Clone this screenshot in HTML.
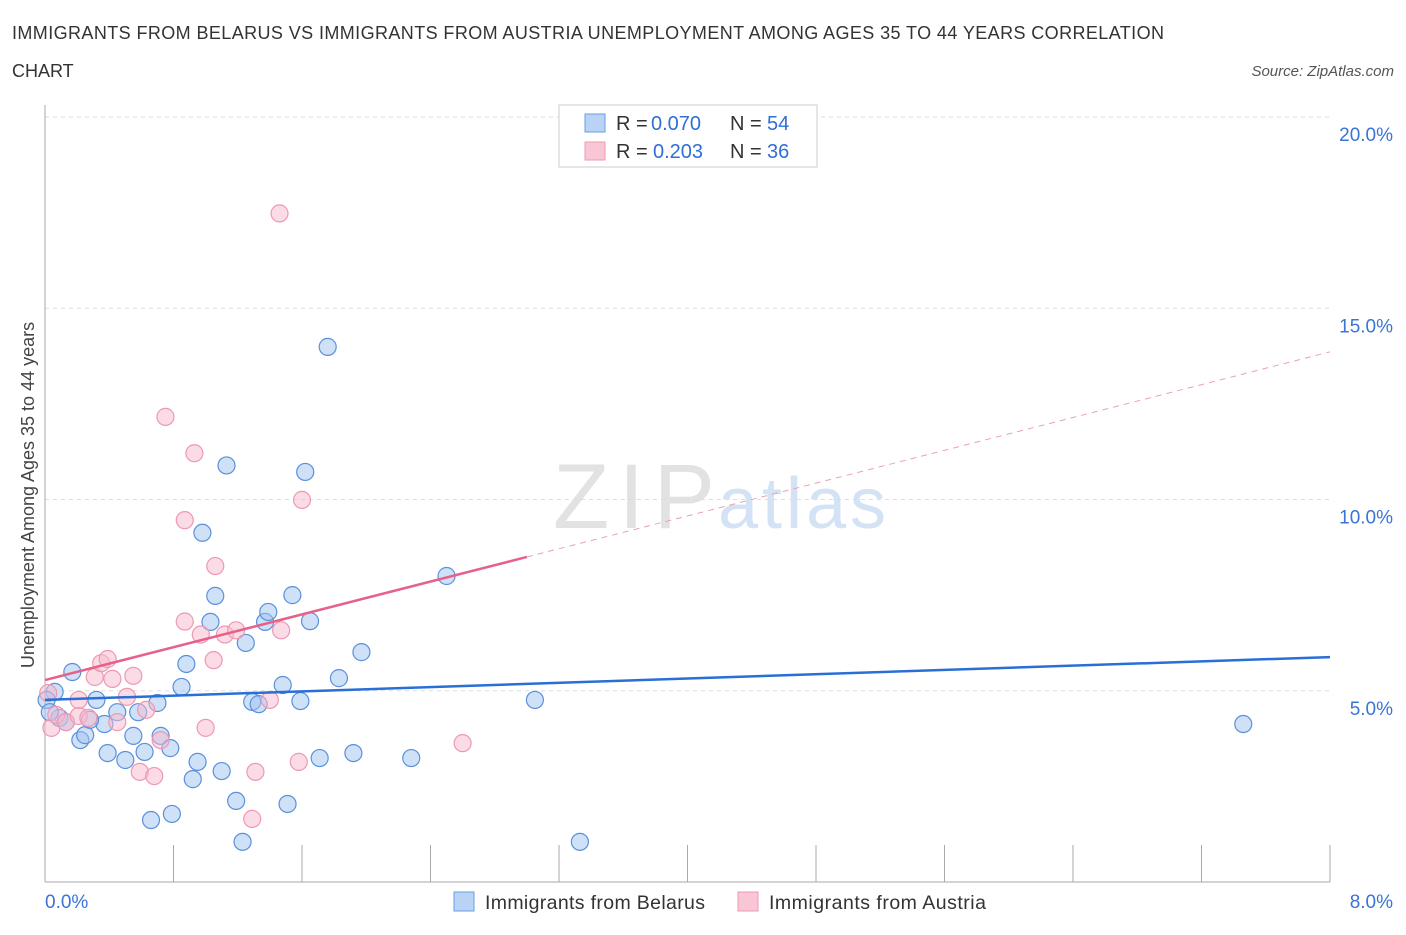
<!DOCTYPE html>
<html><head><meta charset="utf-8"><style>
body{margin:0;background:#fff;font-family:"Liberation Sans",sans-serif}
svg text{font-family:"Liberation Sans",sans-serif}
</style></head><body>
<svg id="c" width="1406" height="930" xmlns="http://www.w3.org/2000/svg">
<text x="12" y="39" font-size="18" fill="#333" textLength="1152">IMMIGRANTS FROM BELARUS VS IMMIGRANTS FROM AUSTRIA UNEMPLOYMENT AMONG AGES 35 TO 44 YEARS CORRELATION</text>
<text x="12" y="77" font-size="18" fill="#333">CHART</text>
<text x="1394" y="76" font-size="15" fill="#555" font-style="italic" text-anchor="end">Source: ZipAtlas.com</text>
<text x="553" y="528" font-size="92" fill="#e2e2e2" font-family="Liberation Serif" textLength="162">ZIP</text>
<text x="718" y="528" font-size="72" fill="#d3e2f4" textLength="168">atlas</text>
<text transform="translate(34,495) rotate(-90)" font-size="18" fill="#444" text-anchor="middle">Unemployment Among Ages 35 to 44 years</text>
<g id="grid"></g><g id="pts"></g><g id="lines"></g>
<g>
<rect x="559" y="105" width="258" height="62" fill="#fff" stroke="#ccc"/>
<rect x="585" y="114" width="20" height="18" fill="#b8d3f5" stroke="#6a9ee0"/>
<rect x="585" y="142" width="20" height="18" fill="#f9c6d5" stroke="#ee9ab2"/>
<text x="616" y="130" font-size="20" fill="#333">R =</text><text x="651" y="130" font-size="20" fill="#2f6fd6">0.070</text>
<text x="730" y="130" font-size="20" fill="#333">N =</text><text x="767" y="130" font-size="20" fill="#2f6fd6">54</text>
<text x="616" y="158" font-size="20" fill="#333">R =</text><text x="653" y="158" font-size="20" fill="#2f6fd6">0.203</text>
<text x="730" y="158" font-size="20" fill="#333">N =</text><text x="767" y="158" font-size="20" fill="#2f6fd6">36</text>
</g>
<g>
<rect x="454" y="892" width="20" height="19" fill="#b8d3f5" stroke="#6a9ee0"/>
<text x="485" y="909" font-size="19.5" fill="#333" textLength="220">Immigrants from Belarus</text>
<rect x="738" y="892" width="20" height="19" fill="#f9c6d5" stroke="#ee9ab2"/>
<text x="769" y="909" font-size="19.5" fill="#333" textLength="217">Immigrants from Austria</text>
</g>
</svg>
<script>
const xTicks=[0,0.8,1.6,2.4,3.2,4,4.8,5.6,6.4,7.2,8];
const yTicks=[5,10,15,20];
const yTickLabels=["5.0%","10.0%","15.0%","20.0%"];
const belX=[0.06,0.17,0.09,0.22,0.25,0.32,0.37,0.39,0.45,0.50,0.55,0.58,0.62,0.66,0.70,0.72,0.78,0.79,0.85,0.88,0.92,0.95,0.98,1.03,1.06,1.10,1.13,1.19,1.23,1.25,1.29,1.33,1.37,1.39,1.48,1.51,1.54,1.59,1.62,1.65,1.71,1.76,1.83,1.92,1.97,2.28,2.50,3.05,3.33,7.46,0.01,0.03,0.13,0.28];
const belY=[4.97,5.49,4.29,3.71,3.84,4.76,4.13,3.37,4.44,3.19,3.82,4.44,3.40,1.62,4.68,3.82,3.50,1.78,5.10,5.70,2.69,3.14,9.13,6.80,7.48,2.90,10.89,2.12,1.05,6.25,4.71,4.65,6.80,7.06,5.15,2.04,7.50,4.73,10.72,6.82,3.24,13.99,5.33,3.37,6.01,3.24,8.00,4.76,1.05,4.13,4.76,4.44,4.18,4.24];
const ausX=[0.02,0.04,0.07,0.13,0.21,0.27,0.31,0.35,0.39,0.42,0.45,0.51,0.55,0.59,0.63,0.68,0.72,0.75,0.87,0.87,0.93,0.97,1.00,1.05,1.06,1.12,1.19,1.31,1.29,1.40,1.46,1.47,1.58,1.60,2.60,0.21];
const ausY=[4.94,4.03,4.37,4.18,4.34,4.29,5.36,5.72,5.83,5.31,4.18,4.84,5.39,2.88,4.50,2.77,3.71,12.16,6.81,9.46,11.21,6.47,4.03,5.80,8.26,6.47,6.58,2.88,1.65,4.76,17.48,6.58,3.14,9.99,3.63,4.76];
const ns="http://www.w3.org/2000/svg";
const X=v=>45+v/8*1285, Y=v=>882-v*38.25;
function mk(t,a,p){const e=document.createElementNS(ns,t);for(const k in a)e.setAttribute(k,a[k]);document.getElementById(p).appendChild(e);return e;}
const g='grid';
yTicks.forEach((t,i)=>{
 const l=mk('line',{x1:45,x2:1330,y1:Y(t),y2:Y(t),stroke:'#ddd','stroke-dasharray':'4,4'},g);
 
 
 const tx=mk('text',{x:1393,y:Y(t)+24,'font-size':19,fill:'#3a74d4','text-anchor':'end'},g);tx.textContent=yTickLabels[i];
 
 
});
mk('line',{x1:45,x2:45,y1:105,y2:882,stroke:'#aaa'},g);
mk('line',{x1:45,x2:1330,y1:882,y2:882,stroke:'#aaa'},g);
xTicks.forEach(t=>{const l=mk('line',{x1:X(t),x2:X(t),y1:845,y2:882,stroke:'#aaa'},g);
 
 });
let a=mk('text',{x:45,y:908,'font-size':19,fill:'#3a74d4'},g);a.textContent='0.0%';


a=mk('text',{x:1393,y:908,'font-size':19,fill:'#3a74d4','text-anchor':'end'},g);a.textContent='8.0%';


belX.forEach((x,i)=>{const c=mk('circle',{cx:X(x),cy:Y(belY[i]),r:8.5,fill:'rgba(160,196,240,0.5)',stroke:'#5a90dc','stroke-width':1.2},'pts');
 
 });
ausX.forEach((x,i)=>{const c=mk('circle',{cx:X(x),cy:Y(ausY[i]),r:8.5,fill:'rgba(248,185,205,0.5)',stroke:'#ee98b2','stroke-width':1.2},'pts');
 
 });
const belTrend=[4.76,5.88], ausTrend=[5.28,13.86], ausSolidEnd=3.0;
let l=mk('line',{x1:X(0),y1:Y(belTrend[0]),x2:X(8),y2:Y(belTrend[1]),stroke:'#2a6fd6','stroke-width':2.5},'lines');


const ay=x=>ausTrend[0]+(ausTrend[1]-ausTrend[0])*x/8;
l=mk('line',{x1:X(0),y1:Y(ay(0)),x2:X(ausSolidEnd),y2:Y(ay(ausSolidEnd)),stroke:'#e6608a','stroke-width':2.5},'lines');


l=mk('line',{x1:X(ausSolidEnd),y1:Y(ay(ausSolidEnd)),x2:X(8),y2:Y(ay(8)),stroke:'#eba0b8','stroke-width':1,'stroke-dasharray':'6,5'},'lines');


</script>
</body></html>
